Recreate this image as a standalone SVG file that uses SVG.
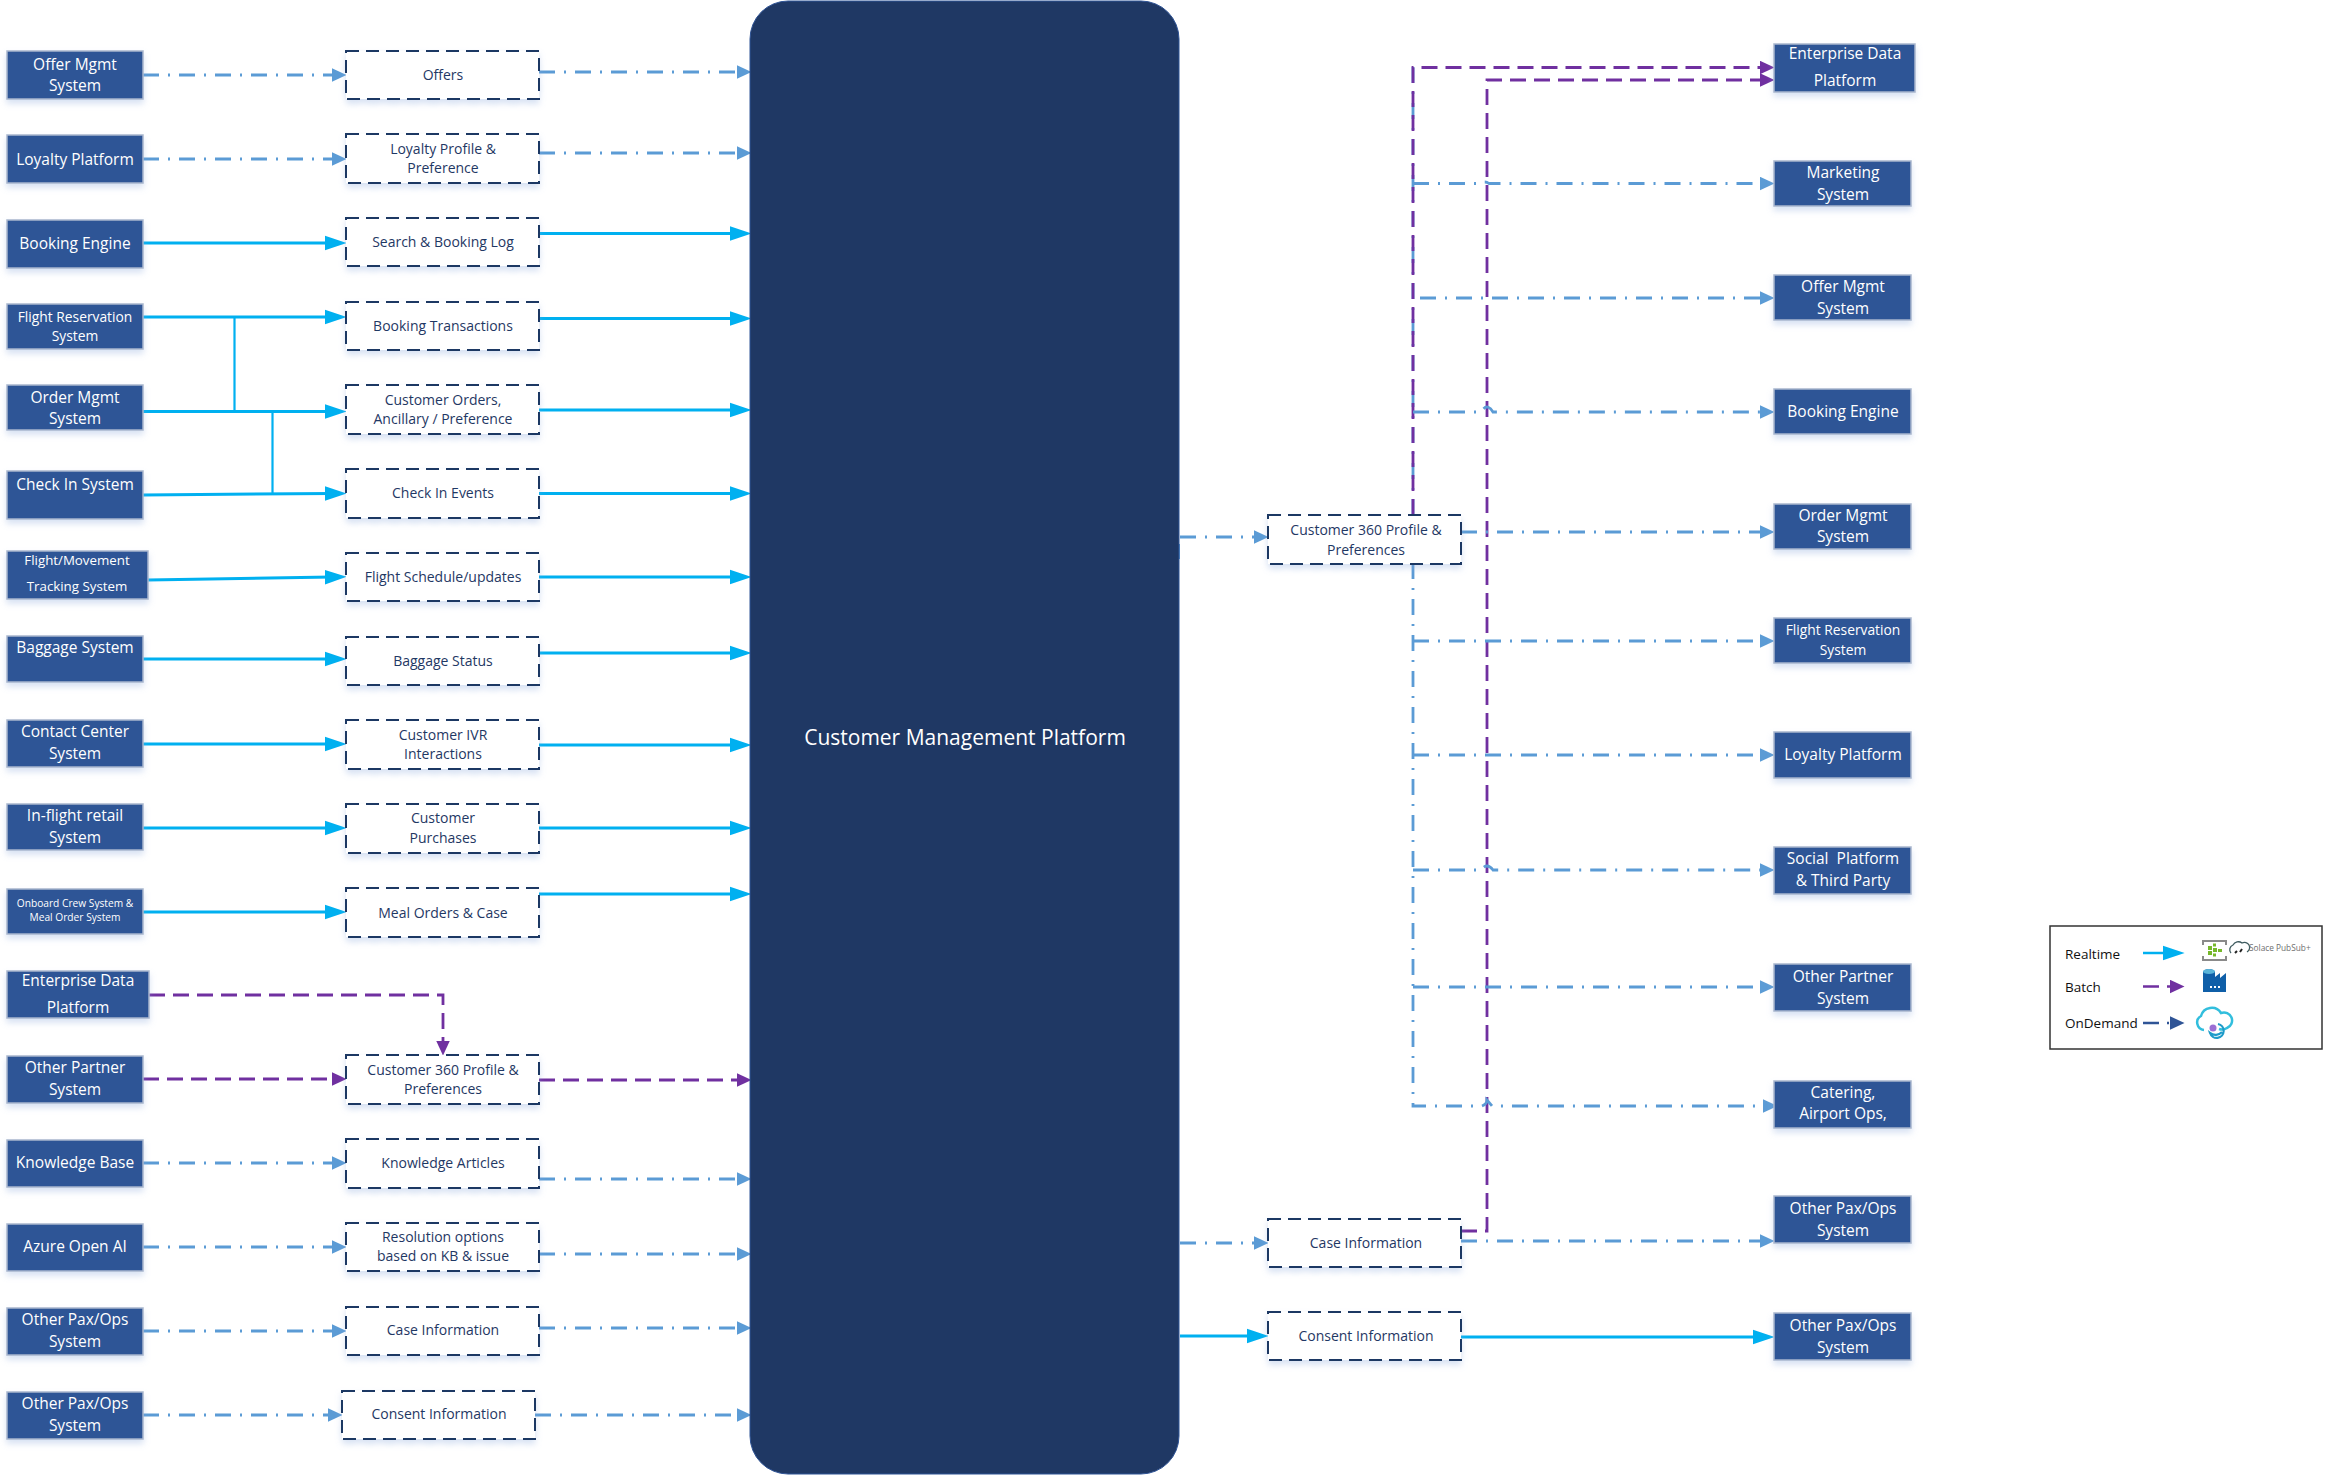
<svg xmlns="http://www.w3.org/2000/svg" width="2329" height="1475" viewBox="0 0 2329 1475">
<style>
text{font-family:"Open Sans","Noto Sans","DejaVu Sans",sans-serif;text-anchor:middle}
.n rect{fill:#2F5496;stroke:#A9B6CE;stroke-width:1.5;filter:url(#sh)}
.n text{fill:#fff;font-size:15.500px}
.n text.s{font-size:13.800px}
.m rect{fill:#fff;stroke:#1F3864;stroke-width:2;stroke-dasharray:13 7;filter:url(#sh)}
.m text{fill:#1F3864;font-size:14px}
.rt{stroke:#00B0F0;stroke-width:3;marker-end:url(#aR);fill:none}
.bus{stroke:#00B0F0;stroke-width:2.200;fill:none}
.od{stroke:#5B9BD5;stroke-width:2.800;stroke-dasharray:16 9 2 9;marker-end:url(#aO);fill:none}
.odv{stroke:#5B9BD5;stroke-width:2.800;stroke-dasharray:16 9 2 9;fill:none}
.ba{stroke:#7030A0;stroke-width:2.800;stroke-dasharray:16 8;marker-end:url(#aB);fill:none}
</style>
<defs>
<filter id="sh" x="-10%" y="-10%" width="120%" height="135%"><feDropShadow dx="0" dy="4" stdDeviation="3" flood-color="#8FAADC" flood-opacity="0.35"/></filter>
<marker id="aR" markerUnits="userSpaceOnUse" markerWidth="22" markerHeight="16" viewBox="0 0 21 14" refX="7" refY="7" orient="auto"><path d="M0 0L21 7L0 14z" fill="#00B0F0"/></marker>
<marker id="aO" markerUnits="userSpaceOnUse" markerWidth="15" markerHeight="14" viewBox="0 0 14 13" refX="7" refY="6.500" orient="auto"><path d="M0 0L14 6.500L0 13z" fill="#5B9BD5"/></marker>
<marker id="aB" markerUnits="userSpaceOnUse" markerWidth="15" markerHeight="14" viewBox="0 0 14 13" refX="7" refY="6.500" orient="auto"><path d="M0 0L14 6.500L0 13z" fill="#7030A0"/></marker>
<marker id="aL" markerUnits="userSpaceOnUse" markerWidth="15" markerHeight="14" viewBox="0 0 14 13" refX="7" refY="6.500" orient="auto"><path d="M0 0L14 6.500L0 13z" fill="#2F5496"/></marker>
</defs>
<rect width="2329" height="1475" fill="#fff"/>

<g id="connectors">
<line class="od" x1="143" y1="75" x2="339" y2="75"/><line class="od" x1="539" y1="72" x2="744" y2="72"/>
<line class="od" x1="143" y1="159" x2="339" y2="159"/><line class="od" x1="539" y1="153" x2="744" y2="153"/>
<line class="rt" x1="143" y1="243" x2="332" y2="243"/><line class="rt" x1="539" y1="233.500" x2="737" y2="233.500"/>
<line class="rt" x1="143" y1="317" x2="332" y2="317"/><line class="rt" x1="539" y1="318.500" x2="737" y2="318.500"/>
<line class="rt" x1="143" y1="411.500" x2="332" y2="411.500"/><line class="rt" x1="539" y1="410" x2="737" y2="410"/>
<line class="rt" x1="143" y1="495" x2="332" y2="493.500"/><line class="rt" x1="539" y1="493.500" x2="737" y2="493.500"/>
<path class="bus" d="M234.500 317V411.500M272.500 411.500V494"/>
<line class="rt" x1="148" y1="580" x2="332" y2="577"/><line class="rt" x1="539" y1="577" x2="737" y2="577"/>
<line class="rt" x1="143" y1="659" x2="332" y2="659"/><line class="rt" x1="539" y1="653" x2="737" y2="653"/>
<line class="rt" x1="143" y1="744" x2="332" y2="744"/><line class="rt" x1="539" y1="745" x2="737" y2="745"/>
<line class="rt" x1="143" y1="828" x2="332" y2="828"/><line class="rt" x1="539" y1="828" x2="737" y2="828"/>
<line class="rt" x1="143" y1="912" x2="332" y2="912"/><line class="rt" x1="539" y1="894" x2="737" y2="894"/>
<path class="ba" d="M149 995H443V1048"/>
<line class="ba" x1="143" y1="1079" x2="339" y2="1079"/><line class="ba" x1="539" y1="1080" x2="744" y2="1080"/>
<line class="od" x1="143" y1="1163" x2="339" y2="1163"/><line class="od" x1="539" y1="1179" x2="744" y2="1179"/>
<line class="od" x1="143" y1="1247" x2="339" y2="1247"/><line class="od" x1="539" y1="1254" x2="744" y2="1254"/>
<line class="od" x1="143" y1="1331" x2="339" y2="1331"/><line class="od" x1="539" y1="1328" x2="744" y2="1328"/>
<line class="od" x1="143" y1="1415" x2="335" y2="1415"/><line class="od" x1="535" y1="1415" x2="744" y2="1415"/>

<line class="od" x1="1180" y1="537" x2="1261" y2="537"/>
<line x1="1179" y1="544" x2="1179" y2="559" stroke="#5B9BD5" stroke-width="2"/>
<path class="odv" d="M1413 67V515"/>
<path class="odv" d="M1413 563V1106H1482"/>
<path class="ba" d="M1413 515V67.500H1767"/>
<path class="ba" d="M1461 1231H1487V80H1767"/>
<path class="od" d="M1413 183.500H1480q5 -3 9 0H1767"/>
<path class="od" d="M1420 298H1767"/>
<path class="od" d="M1413 412H1481q6 -10 12 0H1767"/>
<line class="od" x1="1461" y1="532" x2="1767" y2="532"/>
<line class="od" x1="1413" y1="641" x2="1767" y2="641"/>
<line class="od" x1="1413" y1="755" x2="1767" y2="755"/>
<path class="od" d="M1413 870H1481q6 -8 12 0H1767"/>
<line class="od" x1="1413" y1="987" x2="1767" y2="987"/>
<path class="od" d="M1482 1106q5 -2 5 -6l5 6H1770"/>
<line class="od" x1="1461" y1="1241" x2="1767" y2="1241"/>
<line class="od" x1="1180" y1="1243" x2="1261" y2="1243"/>
<line class="rt" x1="1180" y1="1336" x2="1254" y2="1336"/>
<line class="rt" x1="1461" y1="1337" x2="1760" y2="1337"/>
</g>

<g id="platform"><rect x="750" y="1" width="429" height="1473" rx="38" fill="#1F3864" stroke="#2F5496"/><text x="965" y="745" fill="#fff" font-size="21">Customer Management Platform</text></g>

<g id="src-offer" class="n"><rect x="7" y="51" width="136" height="48"/><text x="75" y="70">Offer Mgmt</text><text x="75" y="91">System</text></g>
<g id="src-loyalty" class="n"><rect x="7" y="135" width="136" height="48"/><text x="75" y="165">Loyalty Platform</text></g>
<g id="src-booking" class="n"><rect x="7" y="220" width="136" height="48"/><text x="75" y="249">Booking Engine</text></g>
<g id="src-flightres" class="n"><rect x="7" y="304" width="136" height="45"/><text class="s" x="75" y="322">Flight Reservation</text><text class="s" x="75" y="341">System</text></g>
<g id="src-order" class="n"><rect x="7" y="385" width="136" height="45"/><text x="75" y="403">Order Mgmt</text><text x="75" y="424">System</text></g>
<g id="src-checkin" class="n"><rect x="7" y="471" width="136" height="48"/><text x="75" y="490">Check In System</text></g>
<g id="src-movement" class="n"><rect x="7" y="551" width="141" height="48"/><text class="s" x="77" y="565" style="font-size:13.300px">Flight/Movement</text><text class="s" x="77" y="591" style="font-size:13.300px">Tracking System</text></g>
<g id="src-baggage" class="n"><rect x="7" y="636" width="136" height="46"/><text x="75" y="653">Baggage System</text></g>
<g id="src-contact" class="n"><rect x="7" y="720" width="136" height="47"/><text x="75" y="737">Contact Center</text><text x="75" y="759">System</text></g>
<g id="src-inflight" class="n"><rect x="7" y="804" width="136" height="46"/><text x="75" y="821">In-flight retail</text><text x="75" y="843">System</text></g>
<g id="src-onboard" class="n"><rect x="7" y="889" width="136" height="45"/><text x="75" y="907" style="font-size:10.200px">Onboard Crew System &amp;</text><text x="75" y="921" style="font-size:10.200px">Meal Order System</text></g>
<g id="src-edp" class="n"><rect x="7" y="971" width="142" height="47"/><text x="78" y="986">Enterprise Data</text><text x="78" y="1013">Platform</text></g>
<g id="src-partner" class="n"><rect x="7" y="1056" width="136" height="47"/><text x="75" y="1073">Other Partner</text><text x="75" y="1095">System</text></g>
<g id="src-kb" class="n"><rect x="7" y="1140" width="136" height="47"/><text x="75" y="1168">Knowledge Base</text></g>
<g id="src-azure" class="n"><rect x="7" y="1224" width="136" height="47"/><text x="75" y="1252">Azure Open AI</text></g>
<g id="src-pax1" class="n"><rect x="7" y="1308" width="136" height="47"/><text x="75" y="1325">Other Pax/Ops</text><text x="75" y="1347">System</text></g>
<g id="src-pax2" class="n"><rect x="7" y="1392" width="136" height="47"/><text x="75" y="1409">Other Pax/Ops</text><text x="75" y="1431">System</text></g>

<g id="m-offers" class="m"><rect x="346" y="51" width="193" height="48"/><text x="443" y="80">Offers</text></g>
<g id="m-loyalty" class="m"><rect x="346" y="134" width="193" height="49"/><text x="443" y="154">Loyalty Profile &amp;</text><text x="443" y="173">Preference</text></g>
<g id="m-search" class="m"><rect x="346" y="218" width="193" height="48"/><text x="443" y="247">Search &amp; Booking Log</text></g>
<g id="m-bookingtx" class="m"><rect x="346" y="302" width="193" height="48"/><text x="443" y="331">Booking Transactions</text></g>
<g id="m-orders" class="m"><rect x="346" y="385" width="193" height="49"/><text x="443" y="405">Customer Orders,</text><text x="443" y="424">Ancillary / Preference</text></g>
<g id="m-checkin" class="m"><rect x="346" y="469" width="193" height="49"/><text x="443" y="498">Check In Events</text></g>
<g id="m-schedule" class="m"><rect x="346" y="553" width="193" height="48"/><text x="443" y="582">Flight Schedule/updates</text></g>
<g id="m-baggage" class="m"><rect x="346" y="637" width="193" height="48"/><text x="443" y="666">Baggage Status</text></g>
<g id="m-ivr" class="m"><rect x="346" y="720" width="193" height="49"/><text x="443" y="740">Customer IVR</text><text x="443" y="759">Interactions</text></g>
<g id="m-purchases" class="m"><rect x="346" y="804" width="193" height="49"/><text x="443" y="823">Customer</text><text x="443" y="843">Purchases</text></g>
<g id="m-meal" class="m"><rect x="346" y="888" width="193" height="49"/><text x="443" y="918">Meal Orders &amp; Case</text></g>
<g id="m-c360" class="m"><rect x="346" y="1055" width="193" height="49"/><text x="443" y="1075">Customer 360 Profile &amp;</text><text x="443" y="1094">Preferences</text></g>
<g id="m-kb" class="m"><rect x="346" y="1139" width="193" height="49"/><text x="443" y="1168">Knowledge Articles</text></g>
<g id="m-resolution" class="m"><rect x="346" y="1223" width="193" height="48"/><text x="443" y="1242">Resolution options</text><text x="443" y="1261">based on KB &amp; issue</text></g>
<g id="m-case" class="m"><rect x="346" y="1307" width="193" height="48"/><text x="443" y="1335">Case Information</text></g>
<g id="m-consent" class="m"><rect x="342" y="1391" width="193" height="48"/><text x="439" y="1419">Consent Information</text></g>

<g id="o-c360" class="m"><rect x="1268" y="515" width="193" height="49"/><text x="1366" y="535">Customer 360 Profile &amp;</text><text x="1366" y="555">Preferences</text></g>
<g id="o-case" class="m"><rect x="1268" y="1219" width="193" height="48"/><text x="1366" y="1248">Case Information</text></g>
<g id="o-consent" class="m"><rect x="1268" y="1312" width="193" height="48"/><text x="1366" y="1341">Consent Information</text></g>

<g id="t-edp" class="n"><rect x="1774" y="44" width="141" height="48"/><text x="1845" y="59">Enterprise Data</text><text x="1845" y="86">Platform</text></g>
<g id="t-marketing" class="n"><rect x="1774" y="161" width="137" height="45"/><text x="1843" y="178">Marketing</text><text x="1843" y="200">System</text></g>
<g id="t-offer" class="n"><rect x="1774" y="275" width="137" height="45"/><text x="1843" y="292">Offer Mgmt</text><text x="1843" y="314">System</text></g>
<g id="t-booking" class="n"><rect x="1774" y="389" width="137" height="45"/><text x="1843" y="417">Booking Engine</text></g>
<g id="t-order" class="n"><rect x="1774" y="504" width="137" height="45"/><text x="1843" y="521">Order Mgmt</text><text x="1843" y="542">System</text></g>
<g id="t-flightres" class="n"><rect x="1774" y="618" width="137" height="45"/><text class="s" x="1843" y="635">Flight Reservation</text><text class="s" x="1843" y="655">System</text></g>
<g id="t-loyalty" class="n"><rect x="1774" y="732" width="137" height="46"/><text x="1843" y="760">Loyalty Platform</text></g>
<g id="t-social" class="n"><rect x="1774" y="847" width="137" height="47"/><text x="1843" y="864" xml:space="preserve">Social  Platform</text><text x="1843" y="886">&amp; Third Party</text></g>
<g id="t-partner" class="n"><rect x="1774" y="964" width="137" height="47"/><text x="1843" y="982">Other Partner</text><text x="1843" y="1004">System</text></g>
<g id="t-catering" class="n"><rect x="1774" y="1081" width="137" height="47"/><text x="1843" y="1098">Catering,</text><text x="1843" y="1119">Airport Ops,</text></g>
<g id="t-pax1" class="n"><rect x="1774" y="1196" width="137" height="47"/><text x="1843" y="1214">Other Pax/Ops</text><text x="1843" y="1236">System</text></g>
<g id="t-pax2" class="n"><rect x="1774" y="1313" width="137" height="47"/><text x="1843" y="1331">Other Pax/Ops</text><text x="1843" y="1353">System</text></g>

<g id="legend">
<rect x="2050" y="926" width="272" height="123" fill="#fff" stroke="#333" stroke-width="1.500"/>
<g style="font-size:13.500px;fill:#111"><text x="2065" y="959" style="text-anchor:start">Realtime</text><text x="2065" y="992" style="text-anchor:start">Batch</text><text x="2065" y="1028" style="text-anchor:start">OnDemand</text></g>
<line x1="2143" y1="953" x2="2170" y2="953" stroke="#00B0F0" stroke-width="2.500" marker-end="url(#aR)"/>
<line x1="2143" y1="986.500" x2="2177" y2="986.500" stroke="#7030A0" stroke-width="2.500" stroke-dasharray="16 8" marker-end="url(#aB)"/>
<line x1="2143" y1="1023" x2="2177" y2="1023" stroke="#2F5496" stroke-width="2.500" stroke-dasharray="16 8 2 8" marker-end="url(#aL)"/>
<g id="icon-eventhub">
<path d="M2203 945V941H2226V945M2203 956V960H2226V956" fill="none" stroke="#8A8A8A" stroke-width="2"/>
<path d="M2208 946h4v4h-4zM2208 951h4v4h-4zM2213 948h4v4h-4zM2213 943.500h3v3h-3zM2213 953.500h3v3h-3zM2218 949h4v3h-4z" fill="#76B82A"/>
</g>
<g id="icon-solace">
<path d="M2231 953a5 5 0 0 1 2 -8a6 6 0 0 1 9 -2a5 5 0 0 1 5 9" fill="none" stroke="#3D5A5E" stroke-width="1.300"/>
<path d="M2235 953l2 -2M2240 952l2 -3" stroke="#222" stroke-width="2"/>
<text x="2249" y="951" style="text-anchor:start;font-size:8.300px;fill:#6E6E6E">Solace PubSub+</text>
</g>
<g id="icon-factory">
<path d="M2203 972a6 3 0 0 1 12 0V977L2220 973V978L2226 973V992H2203z" fill="#0F5FA8"/>
<ellipse cx="2209" cy="971.500" rx="6" ry="2.500" fill="#59B4D9"/>
<path d="M2210 986h2v2h-2zM2214 986h2v2h-2zM2218 986h2v2h-2z" fill="#fff"/>
</g>
<g id="icon-cloud">
<path d="M2204 1030a7.500 7.500 0 0 1 -3 -14a11 11 0 0 1 20 -3a8 8 0 0 1 6 15a9 9 0 0 1 -8 1" fill="none" stroke="#32BEDD" stroke-width="2.500"/>
<path d="M2218 1024a7 7 0 1 1 -8 9a9 9 0 0 0 12 -1" fill="none" stroke="#1E9BC9" stroke-width="2.200"/>
<circle cx="2213" cy="1028" r="3.500" fill="#9B6FD4"/>
</g>
</g>
</svg>
